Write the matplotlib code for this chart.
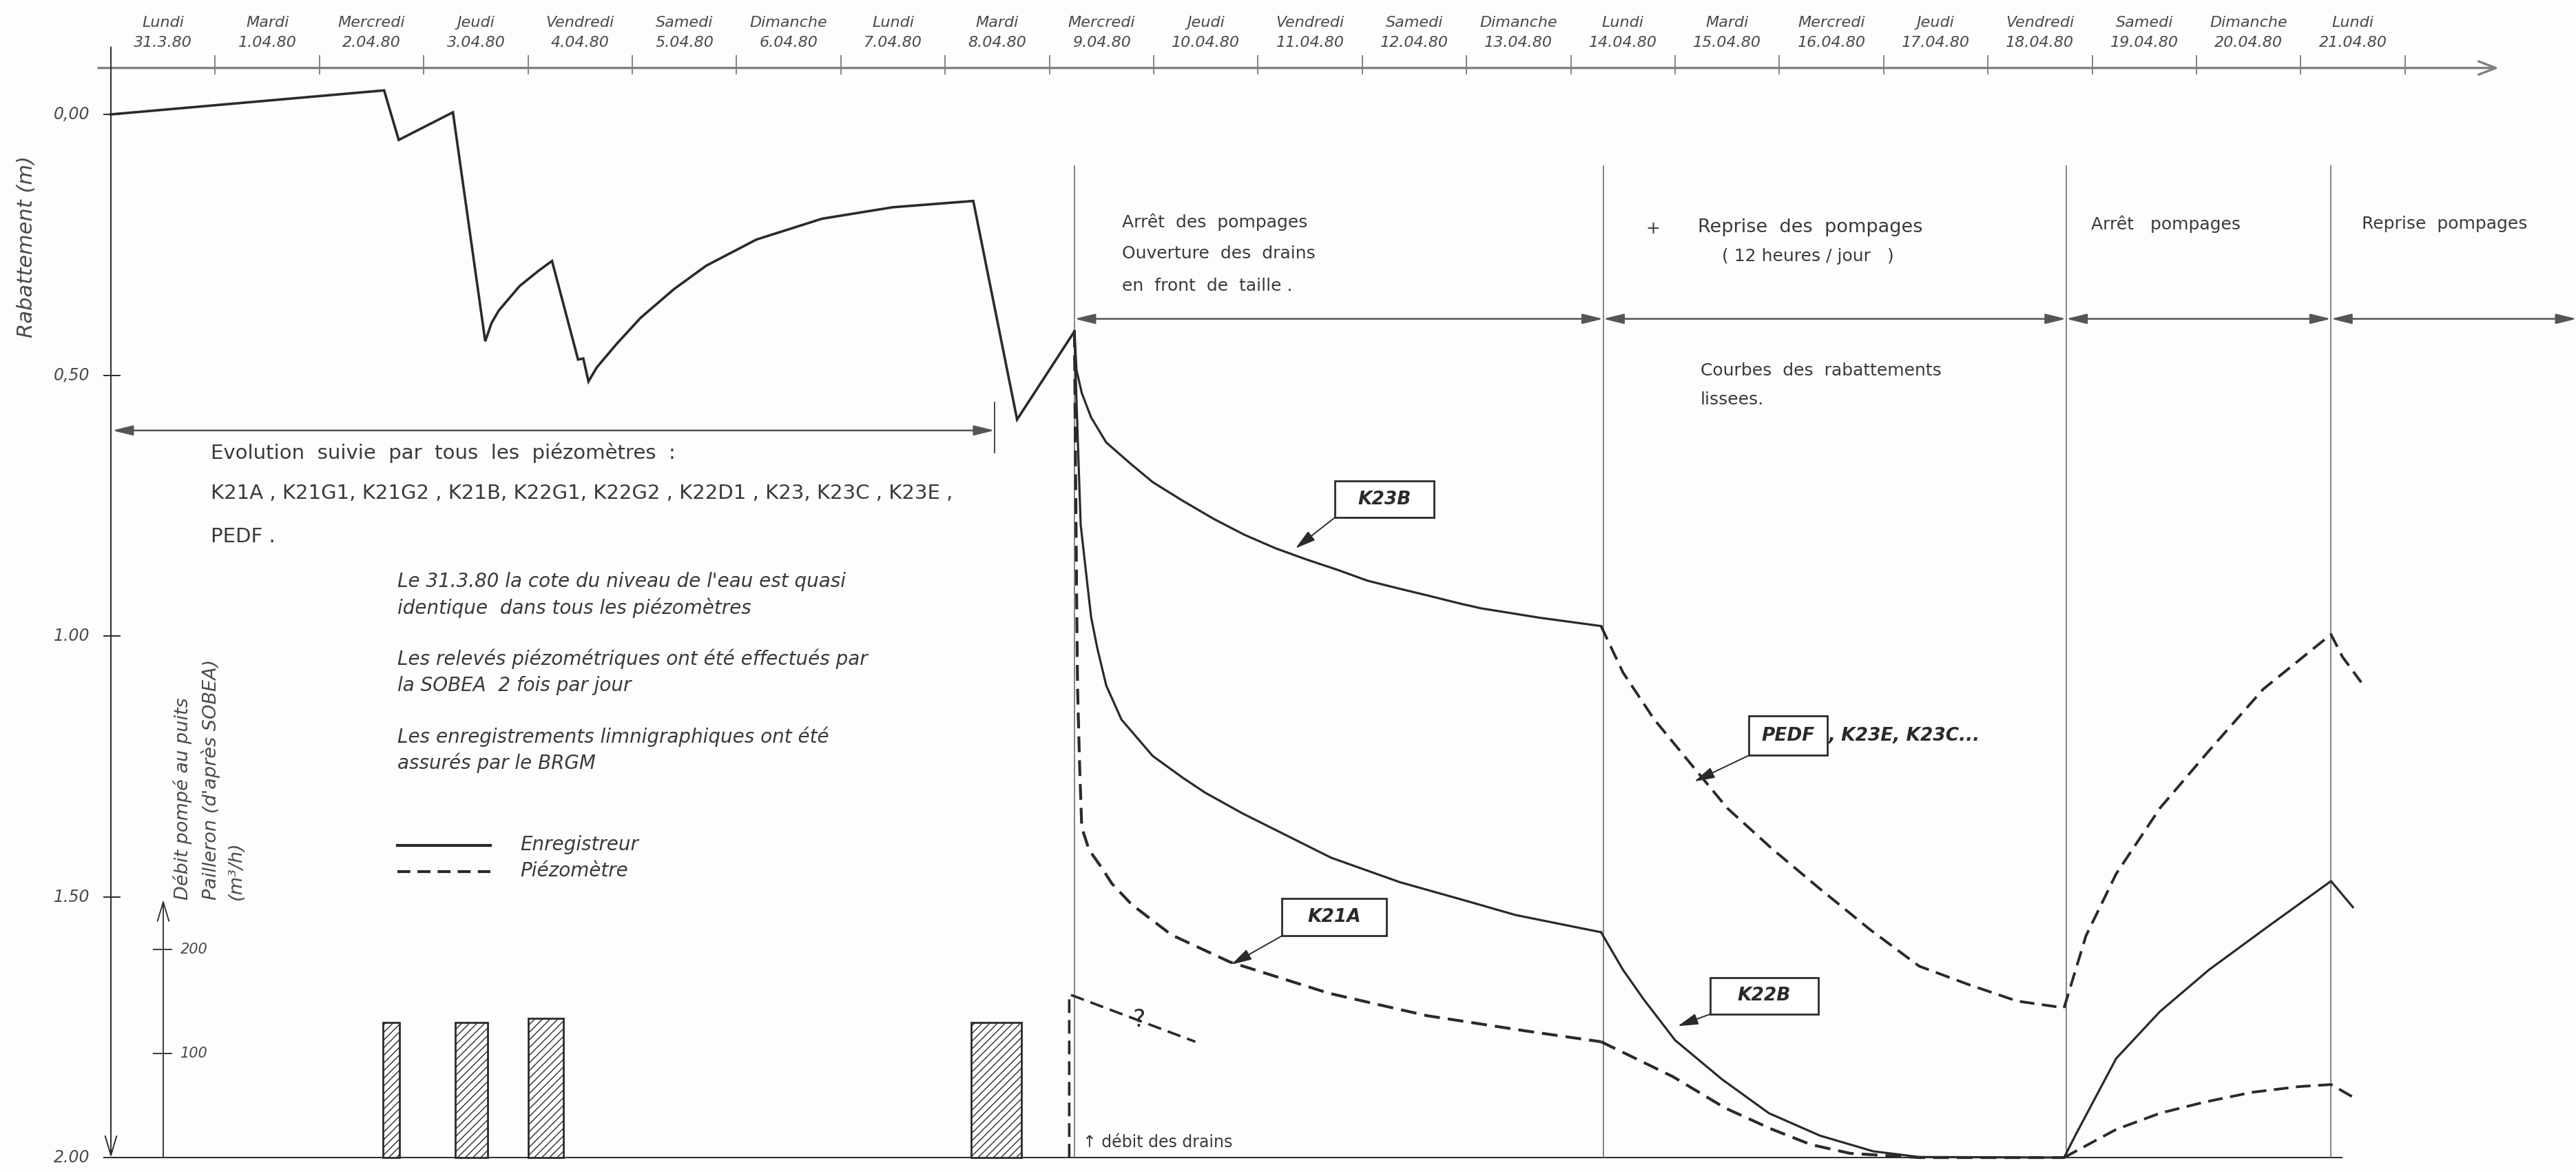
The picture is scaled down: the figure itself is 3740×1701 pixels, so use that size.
import matplotlib
matplotlib.use('Agg')
import matplotlib.pyplot as plt
from matplotlib.patches import Rectangle

plt.rcParams['hatch.linewidth'] = 1.0
plt.rcParams['font.family'] = ['DejaVu Sans']

# ---------------------------------------------------------------- data
weekdays = ['Lundi', 'Mardi', 'Mercredi', 'Jeudi', 'Vendredi', 'Samedi', 'Dimanche',
            'Lundi', 'Mardi', 'Mercredi', 'Jeudi', 'Vendredi', 'Samedi', 'Dimanche',
            'Lundi', 'Mardi', 'Mercredi', 'Jeudi', 'Vendredi', 'Samedi', 'Dimanche',
            'Lundi']
dates = ['31.3.80', '1.04.80', '2.04.80', '3.04.80', '4.04.80', '5.04.80', '6.04.80',
         '7.04.80', '8.04.80', '9.04.80', '10.04.80', '11.04.80', '12.04.80', '13.04.80',
         '14.04.80', '15.04.80', '16.04.80', '17.04.80', '18.04.80', '19.04.80',
         '20.04.80', '21.04.80']

ytick_vals = [0.0, 0.5, 1.0, 1.5, 2.0]
ytick_labels = ['0,00', '0,50', '1.00', '1.50', '2.00']
q_tick_vals = [100, 200]
q_tick_labels = ['100', '200']

# time in days since 31.3.80 00h, drawdown in m (positive downwards)
common_d = [0.00, 2.62, 2.76, 3.28, 3.59, 3.65, 3.72, 3.92, 4.10, 4.23, 4.48, 4.53,
            4.58, 4.66, 4.85, 5.08, 5.40, 5.71, 6.19, 6.82, 7.50, 8.27, 8.69, 9.24]
common_v = [0.000, -0.046, 0.049, -0.004, 0.435, 0.400, 0.376, 0.329, 0.300, 0.281,
            0.470, 0.468, 0.512, 0.485, 0.440, 0.390, 0.335, 0.290, 0.240, 0.200,
            0.178, 0.166, 0.585, 0.416]

k23b_d = [9.24, 9.26, 9.31, 9.40, 9.545, 9.78, 9.99, 10.28, 10.58, 10.87, 11.17, 11.46,
          11.76, 12.05, 12.35, 12.64, 12.94, 13.14, 13.70, 14.29]
k23b_v = [0.416, 0.490, 0.534, 0.581, 0.629, 0.670, 0.705, 0.741, 0.776, 0.806, 0.832,
          0.853, 0.873, 0.894, 0.909, 0.923, 0.938, 0.947, 0.965, 0.981]

pedf_d = [14.29, 14.50, 14.80, 15.17, 15.50, 15.93, 16.39, 16.87, 17.34, 17.81, 18.28, 18.73]
pedf_v = [0.981, 1.070, 1.160, 1.250, 1.330, 1.408, 1.485, 1.563, 1.633, 1.668, 1.700, 1.713]

pedf_rise_d = [18.73, 18.94, 19.23, 19.65, 20.12, 20.64, 21.29, 21.40, 21.58]
pedf_rise_v = [1.713, 1.575, 1.456, 1.330, 1.220, 1.102, 0.997, 1.040, 1.089]

k21a_d = [9.24, 9.26, 9.28, 9.30, 9.35, 9.40, 9.46, 9.545, 9.69, 9.99, 10.28, 10.49,
          10.85, 11.20, 11.70, 12.36, 13.00, 13.47, 14.29]
k21a_v = [0.416, 0.550, 0.670, 0.787, 0.876, 0.964, 1.024, 1.095, 1.160, 1.230, 1.272,
          1.300, 1.340, 1.375, 1.425, 1.472, 1.508, 1.535, 1.568]

k22b_d = [14.29, 14.50, 14.70, 15.00, 15.45, 15.90, 16.39, 16.90, 17.34, 18.73]
k22b_v = [1.568, 1.640, 1.697, 1.775, 1.850, 1.915, 1.958, 1.988, 1.999, 2.000]

k22b_rise_d = [18.73, 18.85, 19.23, 19.65, 20.12, 20.70, 21.29, 21.50]
k22b_rise_v = [2.000, 1.953, 1.810, 1.720, 1.640, 1.555, 1.470, 1.520]

pz_d = [9.24, 9.26, 9.27, 9.29, 9.31, 9.38, 9.50, 9.60, 9.79, 10.17, 10.73, 11.68,
        12.62, 13.56, 14.29]
pz_v = [0.416, 0.900, 1.100, 1.250, 1.367, 1.410, 1.444, 1.475, 1.515, 1.573, 1.625,
        1.685, 1.728, 1.757, 1.778]

pz2_d = [14.29, 14.60, 14.98, 15.48, 15.92, 16.30, 16.68, 17.34, 18.73]
pz2_v = [1.778, 1.808, 1.845, 1.905, 1.945, 1.975, 1.992, 2.000, 2.000]

low_rise_d = [18.73, 19.23, 19.65, 20.07, 20.53, 20.98, 21.29, 21.50]
low_rise_v = [2.000, 1.946, 1.915, 1.894, 1.875, 1.864, 1.860, 1.884]

drain_d = [9.19, 9.19, 10.40]
drain_v = [2.000, 1.687, 1.778]

pump_start = [2.61, 3.30, 4.00, 8.25]
pump_end = [2.77, 3.61, 4.34, 8.73]
pump_q = [130, 130, 134, 130]

phase_bounds = [9.24, 14.31, 18.75, 21.29]

# ---------------------------------------------------------------- figure
W, H, DPI = 3741, 1701, 100
fig = plt.figure(figsize=(W / DPI, H / DPI), dpi=DPI)
fig.patch.set_facecolor('#fdfdfb')
ax = fig.add_axes([0, 0, 1, 1])
ax.set_xlim(-1.0634, 23.646)
ax.set_ylim(2.0277, -0.2193)
ax.set_axis_off()
axq = ax.twinx()
axq.set_ylim(-13.9, 1112.6)
axq.set_axis_off()

INK = '#2a2a2a'
TXT = '#3a3a3a'
LIGHT = '#6f6f6f'
DASH = (0, (5.5, 2.8))

# ---- top time axis
ax.annotate('', xy=(22.9, -0.089), xytext=(-0.12, -0.089),
            arrowprops=dict(arrowstyle='->,head_length=0.9,head_width=0.35', lw=2.4,
                            color='#808080', shrinkA=0, shrinkB=0, mutation_scale=20))
ax.vlines(range(len(dates) + 1), -0.114, -0.077, color=LIGHT, lw=1.2)
for i, (wd, dt) in enumerate(zip(weekdays, dates)):
    ax.text(i + 0.5, -0.176, wd, ha='center', va='center', fontsize=16,
            style='italic', color='#4a4a4a')
    ax.text(i + 0.5, -0.137, dt, ha='center', va='center', fontsize=16,
            style='italic', color='#4a4a4a')

# ---- left drawdown axis
ax.annotate('', xy=(0, 2.0), xytext=(0, -0.129),
            arrowprops=dict(arrowstyle='->,head_length=1.0,head_width=0.3', lw=1.4,
                            color=INK, shrinkA=0, shrinkB=0, mutation_scale=20))
ax.hlines(ytick_vals, -0.073, 0.092, color=INK, lw=1.4)
for yv, yl in zip(ytick_vals, ytick_labels):
    ax.text(-0.2, yv, yl, ha='right', va='center', fontsize=17, style='italic',
            color='#4a4a4a')
ax.text(-0.812, 0.254, 'Rabattement (m)', rotation=90, ha='center', va='center',
        fontsize=22, style='italic', color='#4a4a4a')

# bottom line
ax.hlines(2.0, 0, 21.4, color=INK, lw=1.4)

# ---- pumping rate axis (secondary)
axq.annotate('', xy=(0.502, 247.7), xytext=(0.502, 0),
             arrowprops=dict(arrowstyle='->,head_length=1.0,head_width=0.3', lw=1.3,
                             color=INK, shrinkA=0, shrinkB=0, mutation_scale=20))
axq.hlines(q_tick_vals, 0.403, 0.588, color=INK, lw=1.3)
for qv, ql in zip(q_tick_vals, q_tick_labels):
    axq.text(0.667, qv, ql, ha='left', va='center', fontsize=15, style='italic',
             color='#4a4a4a')
for xd, s in [(0.690, 'Débit pompé au puits'), (0.960, "Pailleron (d'après SOBEA)"),
              (1.200, '(m³/h)')]:
    ax.text(xd, 1.506, s, rotation=90, ha='center', va='bottom', fontsize=19.5,
            style='italic', color='#4a4a4a')

axq.bar(pump_start, pump_q, width=[e - s for s, e in zip(pump_start, pump_end)],
        align='edge', facecolor='white', edgecolor=INK, hatch='///', lw=2.0)

# ---- phase separators
ax.vlines(phase_bounds, 0.098, 2.0, color=LIGHT, lw=1.2)
ends = phase_bounds + [23.646]
for a, b in zip(ends[:-1], ends[1:]):
    ax.annotate('', xy=(b, 0.392), xytext=(a, 0.392),
                arrowprops=dict(arrowstyle='<|-|>,head_length=0.9,head_width=0.22',
                                lw=1.8, color='#555555', shrinkA=0, shrinkB=0,
                                mutation_scale=20))

# ---- curves
ax.plot(common_d, common_v, color=INK, lw=2.6, solid_joinstyle='miter')
ax.plot(k23b_d, k23b_v, color=INK, lw=2.3)
ax.plot(pedf_d, pedf_v, color=INK, lw=2.8, linestyle=DASH)
ax.plot(pedf_rise_d, pedf_rise_v, color=INK, lw=2.8, linestyle=DASH)
ax.plot(k21a_d, k21a_v, color=INK, lw=2.3)
ax.plot(k22b_d, k22b_v, color=INK, lw=2.3)
ax.plot(k22b_rise_d, k22b_rise_v, color=INK, lw=2.3)
ax.plot(pz_d, pz_v, color=INK, lw=3.0, linestyle=DASH)
ax.plot(pz2_d, pz2_v, color=INK, lw=3.0, linestyle=DASH)
ax.plot(low_rise_d, low_rise_v, color=INK, lw=2.8, linestyle=DASH)
ax.plot(drain_d, drain_v, color=INK, lw=2.6, linestyle=DASH)

# ---- annotations (left block)
ax.annotate('', xy=(8.474, 0.606), xytext=(0.013, 0.606),
            arrowprops=dict(arrowstyle='<|-|>,head_length=0.9,head_width=0.22', lw=1.8,
                            color='#555555', shrinkA=0, shrinkB=0, mutation_scale=20))
ax.vlines(8.474, 0.551, 0.650, color=INK, lw=1.2)
ax.text(0.958, 0.649, 'Evolution  suivie  par  tous  les  piézomètres  :', ha='left',
        va='center', fontsize=21, color=TXT)
ax.text(0.958, 0.727, 'K21A , K21G1, K21G2 , K21B, K22G1, K22G2 , K22D1 , K23, K23C , K23E ,',
        ha='left', va='center', fontsize=21, color=TXT)
ax.text(0.958, 0.810, 'PEDF .', ha='left', va='center', fontsize=21, color=TXT)

notes = [(0.896, "Le 31.3.80 la cote du niveau de l'eau est quasi"),
         (0.946, 'identique  dans tous les piézomètres'),
         (1.044, 'Les relevés piézométriques ont été effectués par'),
         (1.095, 'la SOBEA  2 fois par jour'),
         (1.193, 'Les enregistrements limnigraphiques ont été'),
         (1.243, 'assurés par le BRGM')]
for yv, s in notes:
    ax.text(2.748, yv, s, ha='left', va='center', fontsize=20, style='italic', color=TXT)

ax.plot([2.748, 3.639], [1.402, 1.402], color=INK, lw=3.0)
ax.plot([2.748, 3.639], [1.452, 1.452], color=INK, lw=3.0, linestyle=(0, (4.5, 2.5)))
ax.text(3.923, 1.400, 'Enregistreur', ha='left', va='center', fontsize=20,
        style='italic', color=TXT)
ax.text(3.923, 1.450, 'Piézomètre', ha='left', va='center', fontsize=20,
        style='italic', color=TXT)

# ---- annotations (phases)
ax.text(9.696, 0.207, 'Arrêt  des  pompages', ha='left', va='center', fontsize=18, color=TXT)
ax.text(9.696, 0.267, 'Ouverture  des  drains', ha='left', va='center', fontsize=18, color=TXT)
ax.text(9.696, 0.329, 'en  front  de  taille .', ha='left', va='center', fontsize=18, color=TXT)
ax.text(14.716, 0.219, '+', ha='left', va='center', fontsize=18, color=TXT)
ax.text(15.218, 0.217, 'Reprise  des  pompages', ha='left', va='center', fontsize=19.5,
        color=TXT)
ax.text(15.45, 0.272, '( 12 heures / jour   )', ha='left', va='center', fontsize=18, color=TXT)
ax.text(18.989, 0.210, 'Arrêt   pompages', ha='left', va='center', fontsize=18, color=TXT)
ax.text(21.585, 0.210, 'Reprise  pompages', ha='left', va='center', fontsize=18, color=TXT)
ax.text(15.244, 0.491, 'Courbes  des  rabattements', ha='left', va='center', fontsize=18,
        color=TXT)
ax.text(15.244, 0.547, 'lissees.', ha='left', va='center', fontsize=18, color=TXT)

ax.text(9.861, 1.736, '?', ha='center', va='center', fontsize=25, color=INK)
ax.text(9.32, 1.971, '↑ débit des drains', ha='left', va='center', fontsize=17, color=TXT)


def label_box(x0, x1, y0, y1, s, tip):
    ax.add_patch(Rectangle((x0, y0), x1 - x0, y1 - y0, facecolor='white',
                           edgecolor=INK, lw=2.0, zorder=5))
    ax.text((x0 + x1) / 2, (y0 + y1) / 2, s, ha='center', va='center', fontsize=19,
            fontweight='bold', style='italic', color=INK, zorder=6)
    ax.annotate('', xy=tip, xytext=(x0, y1),
                arrowprops=dict(arrowstyle='-|>,head_length=0.9,head_width=0.25',
                                lw=1.4, color=INK, shrinkA=0, shrinkB=0,
                                mutation_scale=20))


label_box(11.737, 12.688, 0.703, 0.773, 'K23B', (11.36, 0.832))
label_box(11.229, 12.232, 1.503, 1.575, 'K21A', (10.745, 1.630))
label_box(15.337, 16.374, 1.655, 1.725, 'K22B', (15.026, 1.748))
label_box(15.707, 16.460, 1.153, 1.229, 'PEDF', (15.185, 1.279))
ax.text(16.473, 1.192, ', K23E, K23C...', ha='left', va='center', fontsize=19,
        fontweight='bold', style='italic', color=INK)

fig.savefig('out.png', dpi=DPI, facecolor=fig.get_facecolor())
